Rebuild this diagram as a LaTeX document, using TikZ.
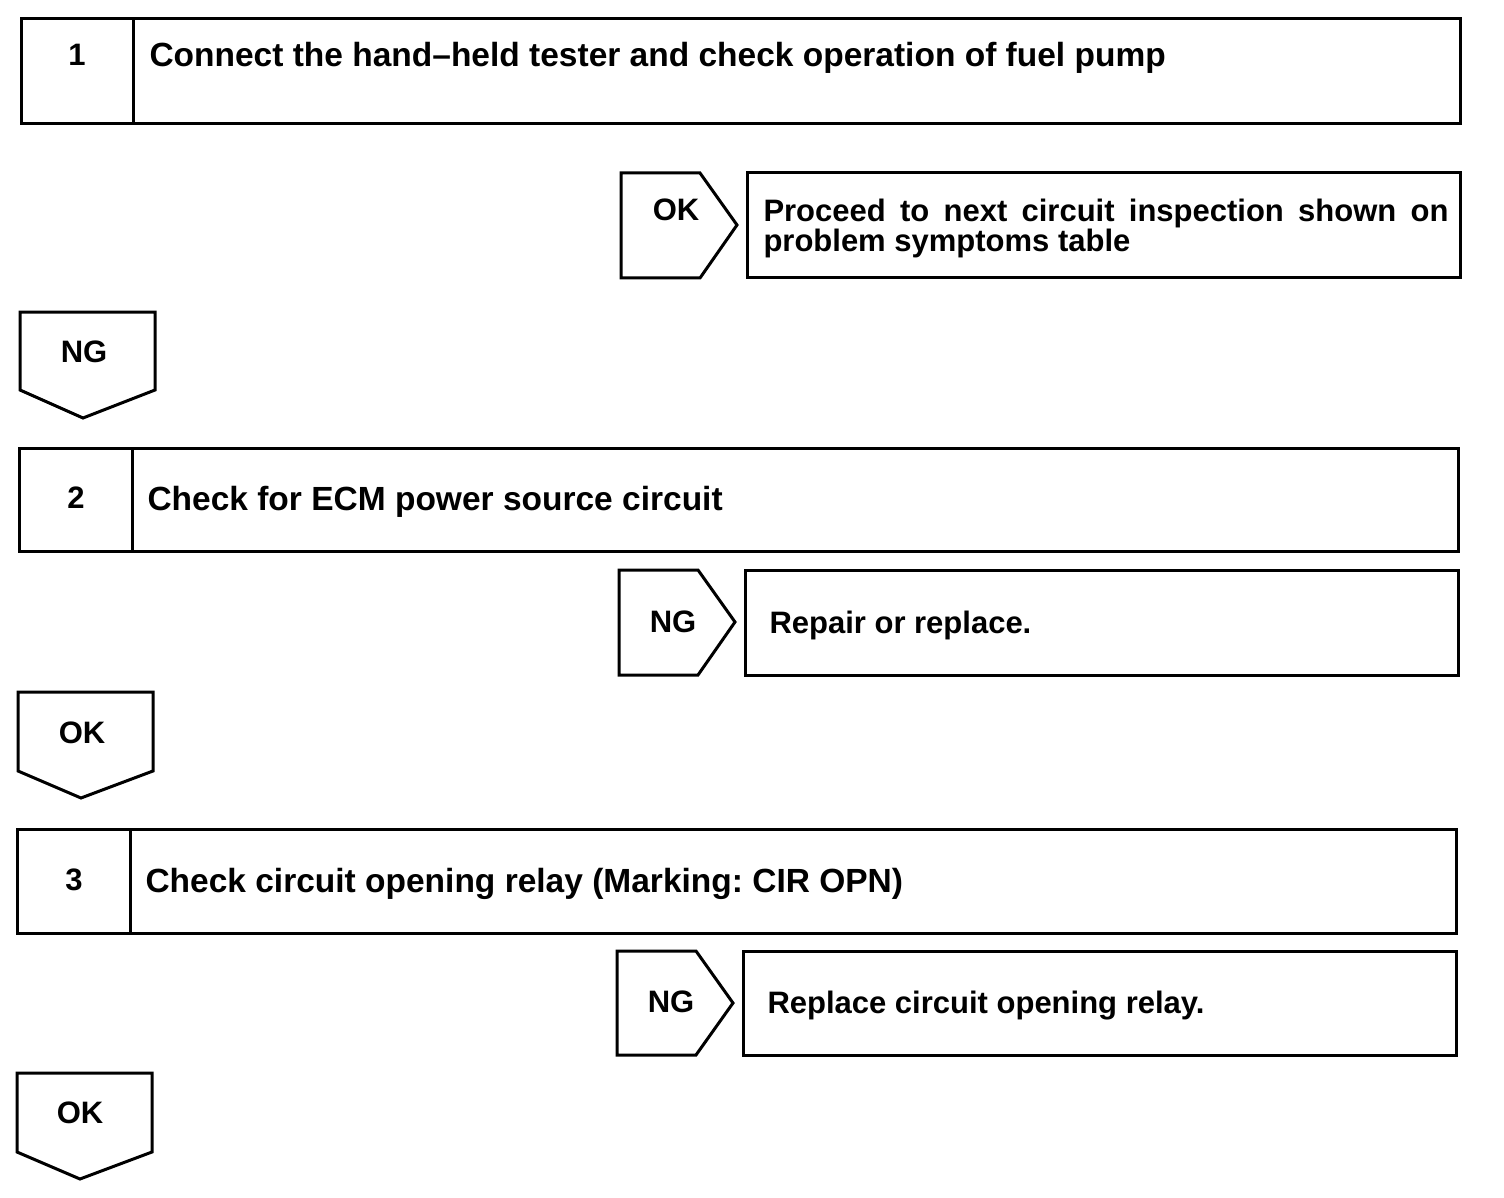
\documentclass[tikz,border=0pt]{standalone}
\usepackage{fontspec}
\setmainfont{Liberation Sans}
\frenchspacing
\begin{document}
\begin{tikzpicture}[x=1pt,y=-1pt,line width=3pt,line join=miter,
  txt/.style={font=\bfseries\fontsize{33.5}{34}\selectfont,inner sep=0pt,anchor=base west},
  side/.style={font=\bfseries\fontsize{31}{30}\selectfont,inner sep=0pt,anchor=base west},
  num/.style={font=\bfseries\fontsize{31}{31}\selectfont,inner sep=0pt}]
\useasboundingbox (0,0) rectangle (1504,1198);
% Step 1
\draw (21,19) rectangle (1460,124);
\draw (133,19) -- (133,124);
\node[num] (n1) at (77,55) {1};
\node[txt] (t1) at (148,67) {Connect the hand–held tester and check operation of fuel pump};
% OK right tag
\draw (621,173) -- (700,173) -- (737,225) -- (700,278) -- (621,278) -- cycle;
\node[num] (ok1) at (676,210) {OK};
\draw (747,173) rectangle (1460,278);
\node[side,anchor=north west,align=left] (r1) at (762,198) {\hbox to 685pt{Proceed\hfil to\hfil next\hfil circuit\hfil inspection\hfil shown\hfil on}\\problem symptoms table};
% NG down tag
\draw (20,312) -- (155,312) -- (155,390) -- (83,418) -- (20,390) -- cycle;
\node[num] (ng1) at (84,352) {NG};
% Step 2
\draw (19,448) rectangle (1458,551);
\draw (132,448) -- (132,551);
\node[num] (n2) at (76,498) {2};
\node[txt] (t2) at (146,510) {Check for ECM power source circuit};
\draw (619,570) -- (698,570) -- (735,622) -- (698,675) -- (619,675) -- cycle;
\node[num] (ng2) at (673,622) {NG};
\draw (745,570) rectangle (1458,675);
\node[side] (r2) at (768,633) {Repair or replace.};
\draw (18,692) -- (153,692) -- (153,771) -- (81,798) -- (18,771) -- cycle;
\node[num] (ok2) at (82,733) {OK};
% Step 3
\draw (17,829) rectangle (1456,933);
\draw (130,829) -- (130,933);
\node[num] (n3) at (74,880) {3};
\node[txt] (t3) at (144,892) {Check circuit opening relay (Marking: CIR OPN)};
\draw (617,951) -- (696,951) -- (733,1003) -- (696,1055) -- (617,1055) -- cycle;
\node[num] (ng3) at (671,1002) {NG};
\draw (743,951) rectangle (1456,1055);
\node[side] (r3) at (766,1013) {Replace circuit opening relay.};
\draw (17,1073) -- (152,1073) -- (152,1152) -- (80,1179) -- (17,1152) -- cycle;
\node[num] (ok3) at (80,1113) {OK};
\end{tikzpicture}
\end{document}
